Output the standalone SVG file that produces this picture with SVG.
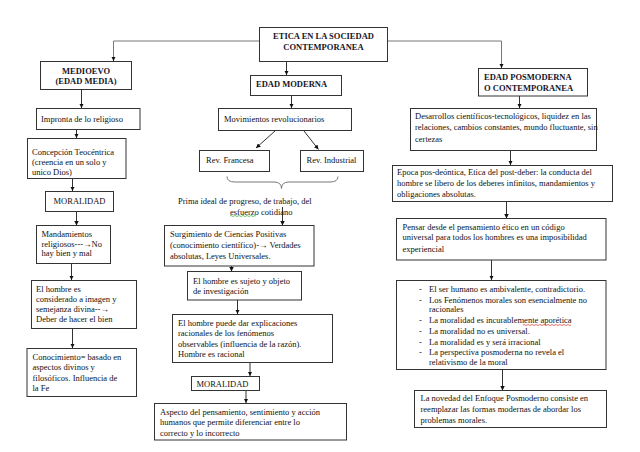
<svg xmlns="http://www.w3.org/2000/svg" width="640" height="452" viewBox="0 0 640 452">
<style>
.box{fill:#fff;stroke:#333;stroke-width:1}
.t{font-family:"Liberation Serif","Times New Roman",serif;font-size:8.5px;fill:#111}
.b{font-weight:bold;font-size:8.5px;fill:#141428}
.c{text-anchor:middle}
.ln{fill:none;stroke:#333;stroke-width:1;marker-end:url(#ah)}
.hl{fill:none;stroke:#777;stroke-width:1}
</style>
<defs>
<marker id="ah" viewBox="0 0 6 6" refX="6" refY="3" markerWidth="4.5" markerHeight="4.5" markerUnits="userSpaceOnUse" orient="auto">
<path d="M0,0 L6,3 L0,6 z" fill="#111"/>
</marker>
</defs>
<rect width="640" height="452" fill="#fff"/>
<g id="connectors">
<path class="hl" d="M259,41 H113.5 V58"/>
<path class="ln" d="M113.5,57 V61"/>
<path class="hl" d="M387,41 H501.5 V65"/>
<path class="ln" d="M501.5,64 V68"/>
<path class="ln" d="M286.5,62 V75"/>
<path class="ln" d="M81.5,90 V108"/>
<path class="ln" d="M291.5,96 V108"/>
<path class="ln" d="M519.5,96 V108"/>
<path class="ln" d="M76.5,130 V138"/>
<path class="ln" d="M72.5,179 V191"/>
<path class="ln" d="M76.5,212 V225.5"/>
<path class="ln" d="M71.5,264 V280"/>
<path class="ln" d="M72.5,329 V348"/>
<path class="ln" d="M275,131 L256,148"/>
<path class="ln" d="M304,131 L318.5,149.5"/>
<path class="hl" d="M227,176.5 Q227,182 235,182 L274,182 Q281.5,182 281.5,188.5 Q281.5,182 289,182 L330,182 Q338,182 338,176.5"/>
<path class="ln" d="M282.5,207 V225.5"/>
<path class="ln" d="M231.5,266 V271.5"/>
<path class="ln" d="M237.5,300 V314"/>
<path class="ln" d="M250,363 V376"/>
<path class="ln" d="M246,391 V403"/>
<path class="ln" d="M510.5,151 V165"/>
<path class="ln" d="M506.5,202 V218.5"/>
<path class="ln" d="M491.5,260 V280"/>
<path class="ln" d="M502.5,370 V390.5"/>
</g>
<g id="titulo">
<rect class="box" x="259.5" y="27.5" width="128" height="34"/>
<text class="t b c" x="323.5" y="39">ETICA EN LA SOCIEDAD</text>
<text class="t b c" x="323.5" y="50">CONTEMPORANEA</text>
</g>
<g id="medioevo">
<rect class="box" x="40.5" y="61.5" width="91" height="28"/>
<text class="t b c" x="86" y="73.5">MEDIOEVO</text>
<text class="t b c" x="86" y="84">(EDAD MEDIA)</text>
</g>
<g id="moderna">
<rect class="box" x="250.5" y="75.5" width="91" height="20"/>
<text class="t b" x="256" y="86.5">EDAD MODERNA</text>
</g>
<g id="posmoderna">
<rect class="box" x="478.5" y="68.5" width="109" height="27.5"/>
<text class="t b" x="484" y="80">EDAD POSMODERNA</text>
<text class="t b" x="484" y="91">O CONTEMPORANEA</text>
</g>
<g id="impronta">
<rect class="box" x="36.5" y="108.5" width="103.5" height="21"/>
<text class="t" x="41" y="122">Impronta de lo religioso</text>
</g>
<g id="teocentrica">
<rect class="box" x="27.5" y="138.5" width="98.5" height="40"/>
<text class="t" x="32" y="155">Concepción Teocéntrica</text>
<text class="t" x="32" y="165">(creencia en un solo y</text>
<text class="t" x="32" y="174.5">unico Dios)</text>
</g>
<g id="moralidad1">
<rect class="box" x="45.5" y="191.5" width="68" height="20"/>
<text class="t c" x="79.5" y="203.5">MORALIDAD</text>
</g>
<g id="mandamientos">
<rect class="box" x="36.5" y="225.5" width="74" height="38"/>
<text class="t" x="41.5" y="237">Mandamientos</text>
<text class="t" x="41.5" y="246.5">religiosos---→No</text>
<text class="t" x="41.5" y="256">hay bien y mal</text>
</g>
<g id="imagen">
<rect class="box" x="31.5" y="280.5" width="105" height="48"/>
<text class="t" x="36" y="292">El hombre es</text>
<text class="t" x="36" y="302">considerado a imagen y</text>
<text class="t" x="36" y="312">semejanza divina--→</text>
<text class="t" x="36" y="322">Deber de hacer el bien</text>
</g>
<g id="conocimiento">
<rect class="box" x="27" y="348.5" width="109.5" height="48"/>
<text class="t" x="32.5" y="359.5">Conocimiento= basado en</text>
<text class="t" x="32.5" y="370">aspectos divinos y</text>
<text class="t" x="32.5" y="380.5">filosóficos. Influencia de</text>
<text class="t" x="32.5" y="391">la Fe</text>
</g>
<g id="movimientos">
<rect class="box" x="218.5" y="108.5" width="133" height="22"/>
<text class="t" x="224" y="122">Movimientos revolucionarios</text>
</g>
<g id="francesa">
<rect class="box" x="199.5" y="150.5" width="70" height="21"/>
<text class="t" x="206" y="163">Rev. Francesa</text>
</g>
<g id="industrial">
<rect class="box" x="300.5" y="150.5" width="63" height="21"/>
<text class="t" x="306.5" y="163">Rev. Industrial</text>
</g>
<g id="prima">
<text class="t" x="178" y="203.5">Prima ideal de progreso, de trabajo, del</text>
<text class="t" x="230" y="214.5">esfuerzo cotidiano</text>
<path d="M230,216 q1,-1 2,0 t2,0 t2,0 t2,0 t2,0 t2,0 t2,0 t2,0 t2,0 t2,0 t2,0 t2,0 t2,0" fill="none" stroke="#3a3" stroke-width="0.7"/>
</g>
<g id="ciencias">
<rect class="box" x="164.5" y="225.5" width="149.5" height="40.5"/>
<text class="t" x="170" y="237">Surgimiento de Ciencias Positivas</text>
<text class="t" x="170" y="247.5">(conocimiento científico)-→ Verdades</text>
<text class="t" x="170" y="258.5">absolutas, Leyes Universales.</text>
</g>
<g id="sujeto">
<rect class="box" x="187.5" y="271.5" width="114" height="28.5"/>
<text class="t" x="193" y="284">El hombre es sujeto y objeto</text>
<text class="t" x="193" y="293.5">de investigación</text>
</g>
<g id="racional">
<rect class="box" x="172.5" y="314.5" width="160" height="48"/>
<text class="t" x="178" y="325.5">El hombre puede dar explicaciones</text>
<text class="t" x="178" y="335.5">racionales de los fenómenos</text>
<text class="t" x="178" y="347">observables (influencia de la razón).</text>
<text class="t" x="178" y="357">Hombre es racional</text>
</g>
<g id="moralidad2">
<rect class="box" x="191.5" y="376.5" width="68" height="14"/>
<text class="t" x="196.5" y="386.5">MORALIDAD</text>
</g>
<g id="aspecto">
<rect class="box" x="154.5" y="403.5" width="192" height="36.5"/>
<text class="t" x="160" y="414.5">Aspecto del pensamiento, sentimiento y acción</text>
<text class="t" x="160" y="425">humanos que permite diferenciar entre lo</text>
<text class="t" x="160" y="435.5">correcto y lo incorrecto</text>
</g>
<g id="desarrollos">
<rect class="box" x="410.5" y="108.5" width="186" height="42"/>
<text class="t" x="415" y="118.5">Desarrollos científicos-tecnológicos, liquidez en las</text>
<text class="t" x="415" y="130">relaciones, cambios constantes, mundo fluctuante, sin</text>
<text class="t" x="415" y="142">certezas</text>
</g>
<g id="epoca">
<rect class="box" x="392.5" y="165.5" width="220" height="36"/>
<text class="t" x="397" y="175">Epoca pos-deóntica, Etica del post-deber: la conducta del</text>
<text class="t" x="397" y="186">hombre se libero de los deberes infinitos, mandamientos y</text>
<text class="t" x="397" y="197">obligaciones absolutas.</text>
</g>
<g id="pensar">
<rect class="box" x="396.5" y="218.5" width="209.5" height="41.5"/>
<text class="t" x="402.5" y="229.5">Pensar desde el pensamiento ético en un código</text>
<text class="t" x="402.5" y="240">universal para todos los hombres es una imposibilidad</text>
<text class="t" x="402.5" y="252">experiencial</text>
</g>
<g id="lista">
<rect class="box" x="396.5" y="280.5" width="209.5" height="89"/>
<g class="t">
<text x="419" y="292">-</text><text x="429" y="292">El ser humano es ambivalente, contradictorio.</text>
<text x="419" y="303">-</text><text x="429" y="303">Los Fenómenos morales son esencialmente no</text>
<text x="429" y="312">racionales</text>
<text x="419" y="323">-</text><text x="429" y="323">La moralidad es incurablemente aporética</text>
<text x="419" y="333.5">-</text><text x="429" y="333.5">La moralidad no es universal.</text>
<text x="419" y="344.5">-</text><text x="429" y="344.5">La moralidad es y será irracional</text>
<text x="419" y="354.5">-</text><text x="429" y="354.5">La perspectiva posmoderna no revela el</text>
<text x="429" y="364.5">relativismo de la moral</text>
</g>
<path d="M523,325 q1,-1 2,0 t2,0 t2,0 t2,0 t2,0 t2,0 t2,0 t2,0 t2,0 t2,0 t2,0 t2,0 t2,0 t2,0 t2,0 t2,0 t2,0 t2,0 t2,0 t2,0 t2,0 t2,0 t2,0 t2,0" fill="none" stroke="#d33" stroke-width="0.7"/>
</g>
<g id="novedad">
<rect class="box" x="414.5" y="390.5" width="192" height="37"/>
<text class="t" x="420.5" y="401">La novedad del Enfoque Posmoderno consiste en</text>
<text class="t" x="420.5" y="412">reemplazar las formas modernas de abordar los</text>
<text class="t" x="420.5" y="423">problemas morales.</text>
</g>
</svg>
